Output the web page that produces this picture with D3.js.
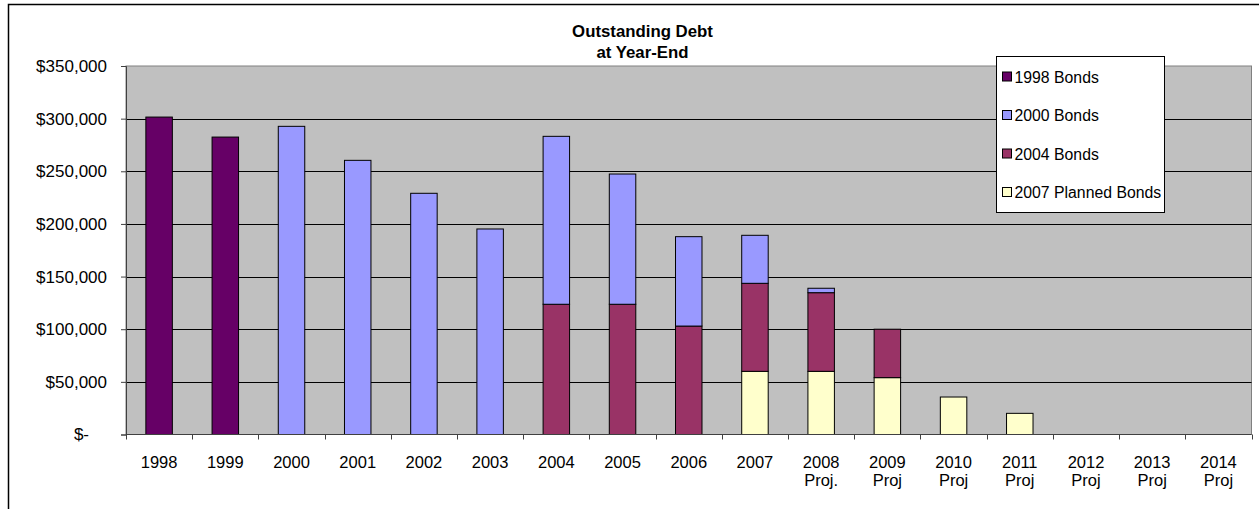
<!DOCTYPE html>
<html>
<head>
<meta charset="utf-8">
<script src="https://cdn.jsdelivr.net/npm/d3@7"></script>
<style>
  body { margin: 0; background: #fff; }
  svg { display: block; font-family: "Liberation Sans", Arial, sans-serif; }
</style>
</head>
<body>
<div id="chart"></div>
<script>
// categories (two-line labels)
var years = ["1998", "1999", "2000", "2001", "2002", "2003", "2004", "2005", "2006",
             "2007", "2008", "2009", "2010", "2011", "2012", "2013", "2014"];
var subLabels = ["", "", "", "", "", "", "", "", "", "", "Proj.", "Proj", "Proj", "Proj", "Proj", "Proj", "Proj"];

// series values
var bonds1998   = [301500, 282500, 0, 0, 0, 0, 0, 0, 0, 0, 0, 0, 0, 0, 0, 0, 0];
var bonds2000   = [0, 0, 292700, 260400, 229100, 195200, 159500, 123700, 84900, 45600, 4200, 0, 0, 0, 0, 0, 0];
var bonds2004   = [0, 0, 0, 0, 0, 0, 123700, 123700, 103000, 83600, 74700, 46000, 0, 0, 0, 0, 0];
var planned2007 = [0, 0, 0, 0, 0, 0, 0, 0, 0, 60000, 60000, 54000, 35600, 20100, 0, 0, 0];

var seriesNames = ["1998 Bonds", "2000 Bonds", "2004 Bonds", "2007 Planned Bonds"];
var yTicks = [0, 50000, 100000, 150000, 200000, 250000, 300000, 350000];

var width = 1259, height = 509;
var plot = { left: 126, right: 1251.5, top: 66, bottom: 434.5 };

var colors = {
  "1998 Bonds": "#660066",
  "2000 Bonds": "#9999FF",
  "2004 Bonds": "#993366",
  "2007 Planned Bonds": "#FFFFCC"
};

var svg = d3.select("#chart").append("svg")
    .attr("width", width)
    .attr("height", height);

// outer chart border (cut off at right / bottom)
svg.append("path")
    .attr("d", "M8.5," + height + "V4.5H" + width)
    .attr("fill", "none")
    .attr("stroke", "#000")
    .attr("stroke-width", 1.5);

// title
var title = svg.append("text")
    .attr("text-anchor", "middle")
    .attr("font-size", 16.8)
    .attr("font-weight", "bold");
title.append("tspan").attr("x", 642.5).attr("y", 36.5).text("Outstanding Debt");
title.append("tspan").attr("x", 642.5).attr("y", 58).text("at Year-End");

var table = years.map(function (y, i) {
  return {
    year: y,
    "1998 Bonds": bonds1998[i],
    "2000 Bonds": bonds2000[i],
    "2004 Bonds": bonds2004[i],
    "2007 Planned Bonds": planned2007[i]
  };
});

var x = d3.scaleBand()
    .domain(years)
    .range([plot.left, plot.right])
    .paddingInner(0.6)
    .paddingOuter(0.3);

var y = d3.scaleLinear()
    .domain([0, 350000])
    .range([plot.bottom, plot.top]);

// plot background
svg.append("rect")
    .attr("x", plot.left)
    .attr("y", plot.top)
    .attr("width", plot.right - plot.left)
    .attr("height", plot.bottom - plot.top)
    .attr("fill", "#C0C0C0")
    .attr("stroke", "#808080")
    .attr("stroke-width", 1);

// gridlines
svg.append("g")
  .selectAll("line")
  .data(yTicks.slice(1, -1))
  .enter().append("line")
    .attr("x1", plot.left)
    .attr("x2", plot.right)
    .attr("y1", function (d) { return Math.round(y(d)) + 0.5; })
    .attr("y2", function (d) { return Math.round(y(d)) + 0.5; })
    .attr("stroke", "#000")
    .attr("stroke-width", 1);

// stacked bars, bottom series first
var stack = d3.stack().keys(["2007 Planned Bonds", "2004 Bonds", "2000 Bonds", "1998 Bonds"]);
var layers = stack(table);

svg.append("g")
  .selectAll("g")
  .data(layers)
  .enter().append("g")
    .attr("fill", function (d) { return colors[d.key]; })
  .selectAll("rect")
  .data(function (d) { return d.filter(function (e) { return e[1] - e[0] > 0; }); })
  .enter().append("rect")
    .attr("x", function (d) { return x(d.data.year); })
    .attr("width", x.bandwidth())
    .attr("y", function (d) { return y(d[1]); })
    .attr("height", function (d) { return y(d[0]) - y(d[1]); })
    .attr("stroke", "#000")
    .attr("stroke-width", 1);

// y axis
var yAxis = d3.axisLeft(y)
    .tickValues(yTicks)
    .tickSize(5)
    .tickPadding(14)
    .tickFormat(function (d) { return d === 0 ? "$-" : d3.format("$,")(d); });

var yg = svg.append("g")
    .attr("transform", "translate(" + plot.left + ",0)")
    .call(yAxis);
yg.select(".domain").attr("stroke", "#404040");
yg.selectAll(".tick line").attr("stroke", "#404040");
yg.selectAll(".tick text")
    .attr("font-size", 17)
    .attr("font-family", "Liberation Sans, Arial, sans-serif")
    .attr("fill", "#000")
    .attr("dx", function (d) { return d === 0 ? -18 : 0; });

// x axis line and ticks at category boundaries
var step = x.step();
var bounds = d3.range(years.length + 1).map(function (i) { return plot.left + i * step; });

svg.append("line")
    .attr("x1", plot.left).attr("x2", plot.right)
    .attr("y1", plot.bottom).attr("y2", plot.bottom)
    .attr("stroke", "#404040");

svg.append("g")
  .selectAll("line")
  .data(bounds)
  .enter().append("line")
    .attr("x1", function (d) { return Math.round(d) + 0.5; })
    .attr("x2", function (d) { return Math.round(d) + 0.5; })
    .attr("y1", plot.bottom)
    .attr("y2", plot.bottom + 5)
    .attr("stroke", "#404040");

var xl = svg.append("g")
  .selectAll("text")
  .data(years)
  .enter().append("text")
    .attr("text-anchor", "middle")
    .attr("font-size", 16.5)
    .attr("fill", "#000");
xl.append("tspan")
    .attr("x", function (d) { return x(d) + x.bandwidth() / 2; })
    .attr("y", 467.5)
    .text(function (d) { return d; });
xl.append("tspan")
    .attr("x", function (d) { return x(d) + x.bandwidth() / 2; })
    .attr("y", 486)
    .text(function (d, i) { return subLabels[i]; });

// legend
var legend = svg.append("g").attr("transform", "translate(996.5,56.5)");
legend.append("rect")
    .attr("width", 168)
    .attr("height", 156)
    .attr("fill", "#fff")
    .attr("stroke", "#000");

var item = legend.selectAll(".item")
  .data(seriesNames)
  .enter().append("g")
    .attr("class", "item")
    .attr("transform", function (d, i) { return "translate(0," + (20 + i * 38.5) + ")"; });
item.append("rect")
    .attr("x", 6)
    .attr("y", -4.5)
    .attr("width", 9)
    .attr("height", 9)
    .attr("fill", function (d) { return colors[d]; })
    .attr("stroke", "#000");
item.append("text")
    .attr("x", 18)
    .attr("y", 6)
    .attr("font-size", 15.8)
    .attr("fill", "#000")
    .text(function (d) { return d; });
</script>
</body>
</html>
